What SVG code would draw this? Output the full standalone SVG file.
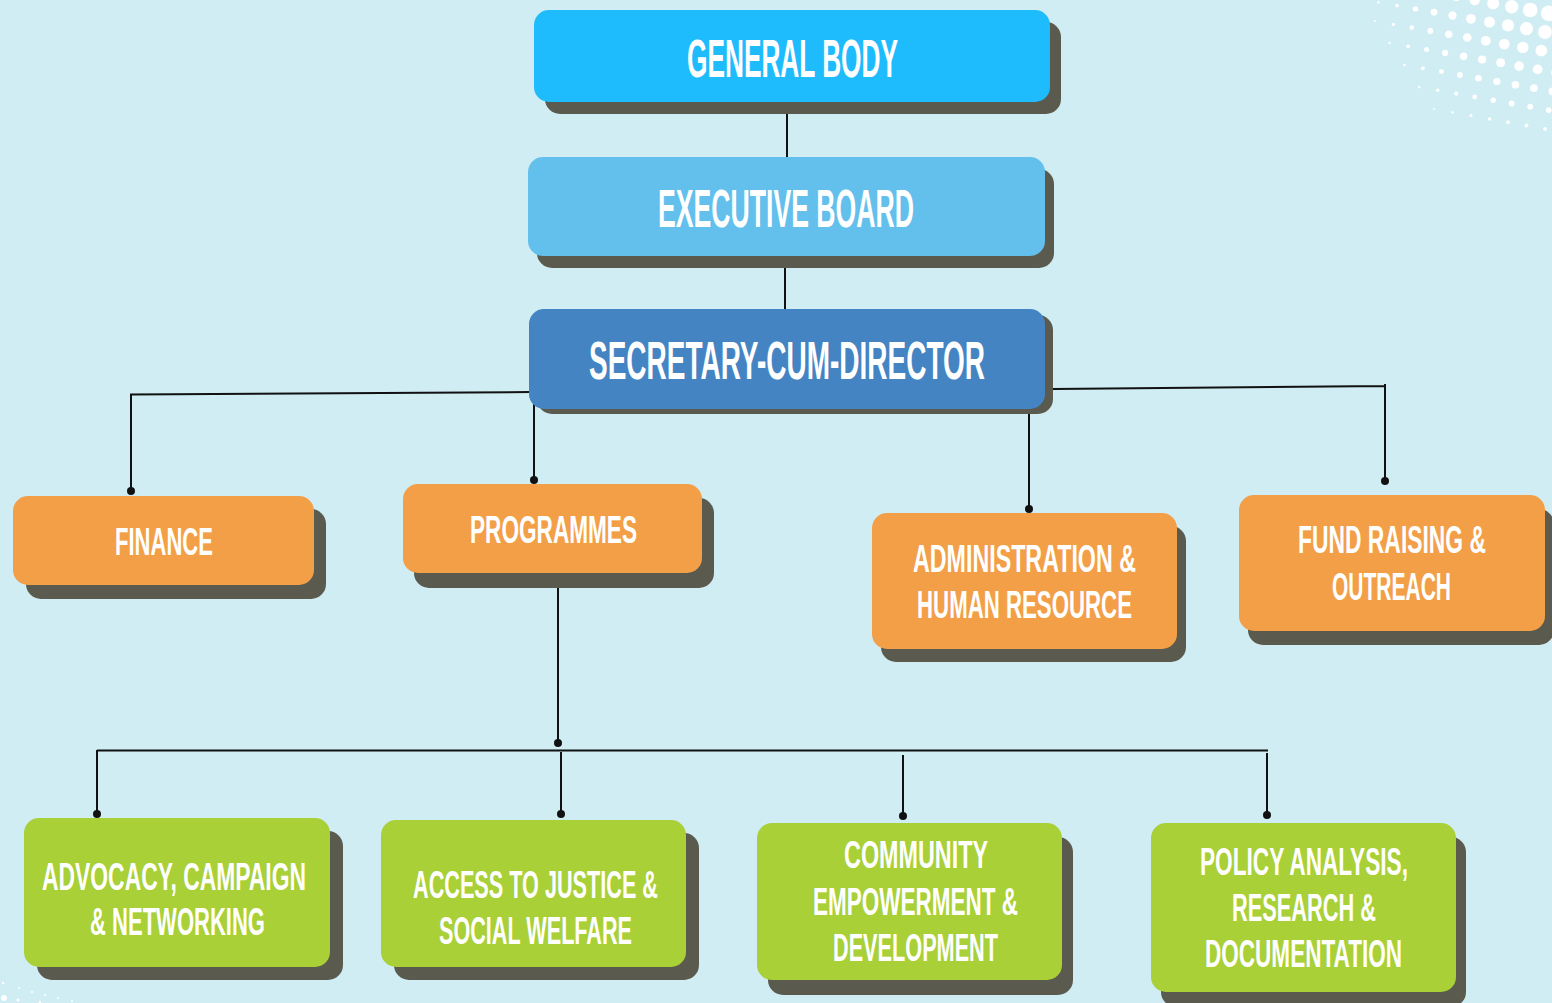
<svg xmlns="http://www.w3.org/2000/svg" width="1552" height="1003" viewBox="0 0 1552 1003">
<style>
.sh{fill:#5B5A4E}
.gb{fill:#1FBCFD}
.eb{fill:#63C0EC}
.sd{fill:#4584C3}
.or{fill:#F39F48}
.gr{fill:#A9D037}
.t{font-family:"Liberation Sans",Arial,sans-serif;font-weight:bold;fill:#FFFFFF;text-anchor:middle}
.big{font-size:53px}
.sm{font-size:39px}
.ln{stroke:#111;stroke-width:2;fill:none}
.dt{fill:#111}
.hd{fill:#FFFFFF}
</style>
<rect width="1552" height="1003" fill="#CFEDF3"/>
<g id="halftone" class="hd">
<circle cx="1548.7" cy="13.3" r="7.8"/><circle cx="1530.2" cy="10" r="7.3"/><circle cx="1511.7" cy="6.7" r="6.7"/><circle cx="1493.2" cy="3.4" r="6"/><circle cx="1474.7" cy="0.1" r="5.2"/><circle cx="1456.2" cy="-3.2" r="4.4"/>
<circle cx="1545" cy="32" r="6.9"/><circle cx="1526.5" cy="28.7" r="6.6"/><circle cx="1508" cy="25.4" r="6.1"/><circle cx="1489.5" cy="22.1" r="5.5"/><circle cx="1471" cy="18.8" r="4.9"/><circle cx="1452.5" cy="15.5" r="4.15"/><circle cx="1434" cy="12.2" r="3.4"/><circle cx="1415.5" cy="8.9" r="2.7"/><circle cx="1397" cy="5.6" r="1.9"/><circle cx="1378.5" cy="2.3" r="1.2"/>
<circle cx="1541.3" cy="50.7" r="5.9"/><circle cx="1522.8" cy="47.4" r="5.7"/><circle cx="1504.3" cy="44.1" r="5.4"/><circle cx="1485.8" cy="40.8" r="4.9"/><circle cx="1467.3" cy="37.5" r="4.3"/><circle cx="1448.8" cy="34.2" r="3.7"/><circle cx="1430.3" cy="30.9" r="3"/><circle cx="1411.8" cy="27.6" r="2.3"/><circle cx="1393.3" cy="24.3" r="1.6"/><circle cx="1374.8" cy="21" r="0.9"/>
<circle cx="1556.1" cy="72.7" r="4.9"/><circle cx="1537.6" cy="69.4" r="4.9"/><circle cx="1519.1" cy="66.1" r="4.8"/><circle cx="1500.6" cy="62.8" r="4.5"/><circle cx="1482.1" cy="59.5" r="4.1"/><circle cx="1463.6" cy="56.2" r="3.7"/><circle cx="1445.1" cy="52.9" r="3.1"/><circle cx="1426.6" cy="49.6" r="2.5"/><circle cx="1408.1" cy="46.3" r="1.9"/><circle cx="1389.6" cy="43" r="1.2"/>
<circle cx="1552.4" cy="91.4" r="3.9"/><circle cx="1533.9" cy="88.1" r="3.9"/><circle cx="1515.4" cy="84.8" r="3.85"/><circle cx="1496.9" cy="81.5" r="3.6"/><circle cx="1478.4" cy="78.2" r="3.3"/><circle cx="1459.9" cy="74.9" r="2.9"/><circle cx="1441.4" cy="71.6" r="2.4"/><circle cx="1422.9" cy="68.3" r="1.9"/><circle cx="1404.4" cy="65" r="1.3"/>
<circle cx="1548.7" cy="110.1" r="2.9"/><circle cx="1530.2" cy="106.8" r="2.95"/><circle cx="1511.7" cy="103.5" r="2.9"/><circle cx="1493.2" cy="100.2" r="2.7"/><circle cx="1474.7" cy="96.9" r="2.4"/><circle cx="1456.2" cy="93.6" r="2.1"/><circle cx="1437.7" cy="90.3" r="1.7"/><circle cx="1419.2" cy="87" r="1.2"/>
<circle cx="1545" cy="128.8" r="1.9"/><circle cx="1526.5" cy="125.5" r="1.95"/><circle cx="1508" cy="122.2" r="1.9"/><circle cx="1489.5" cy="118.9" r="1.75"/><circle cx="1471" cy="115.6" r="1.5"/><circle cx="1452.5" cy="112.3" r="1.2"/><circle cx="1434" cy="109" r="0.9"/>
<circle cx="4" cy="998" r="3"/><circle cx="3" cy="983" r="1.2"/><circle cx="19" cy="988" r="1"/><circle cx="32" cy="992" r="1"/><circle cx="45" cy="995" r="1"/><circle cx="58" cy="998" r="1"/><circle cx="72" cy="1001" r="1"/><circle cx="18" cy="1000" r="1.5"/><circle cx="40" cy="1002" r="1.2"/>
</g>
<g id="connectors">
<path class="ln" d="M787 92V157"/>
<path class="ln" d="M785 256V309"/>
<path class="ln" d="M530 392L131 394.5V491"/>
<path class="ln" d="M534 395V480"/>
<path class="ln" d="M1053 389L1385 386M1385 384V481"/>
<path class="ln" d="M1029 410V509"/>
<path class="ln" d="M558 588V743"/>
<path class="ln" d="M97 750.5H1268"/>
<path class="ln" d="M97 750V814"/>
<path class="ln" d="M561 752V814"/>
<path class="ln" d="M903 755V816"/>
<path class="ln" d="M1267 753V815"/>
<circle class="dt" cx="131" cy="491" r="4"/>
<circle class="dt" cx="534" cy="480" r="4"/>
<circle class="dt" cx="1385" cy="481" r="4"/>
<circle class="dt" cx="1029" cy="509" r="4"/>
<circle class="dt" cx="558" cy="743" r="4"/>
<circle class="dt" cx="97" cy="814" r="4"/>
<circle class="dt" cx="561" cy="814" r="4"/>
<circle class="dt" cx="903" cy="816" r="4"/>
<circle class="dt" cx="1267" cy="815" r="4"/>
</g>
<g id="general-body">
<rect class="sh" x="545" y="22" width="516" height="92" rx="15"/>
<rect class="gb" x="534" y="10" width="516" height="92" rx="15"/>
<text class="t big" transform="translate(792.5 77) scale(0.5 1)" textLength="422" lengthAdjust="spacingAndGlyphs">GENERAL BODY</text>
</g>
<g id="executive-board">
<rect class="sh" x="537" y="169" width="517" height="99" rx="15"/>
<rect class="eb" x="528" y="157" width="517" height="99" rx="15"/>
<text class="t big" transform="translate(786 227) scale(0.5 1)" textLength="512" lengthAdjust="spacingAndGlyphs">EXECUTIVE BOARD</text>
</g>
<g id="secretary-cum-director">
<rect class="sh" x="537" y="315" width="516" height="99" rx="15"/>
<rect class="sd" x="529" y="309" width="516" height="100" rx="15"/>
<text class="t big" transform="translate(787 379) scale(0.5 1)" textLength="792" lengthAdjust="spacingAndGlyphs">SECRETARY-CUM-DIRECTOR</text>
</g>
<g id="finance">
<rect class="sh" x="26" y="509" width="300" height="90" rx="15"/>
<rect class="or" x="13" y="496" width="301" height="89" rx="15"/>
<text class="t sm" transform="translate(164 555) scale(0.5 1)" textLength="196" lengthAdjust="spacingAndGlyphs">FINANCE</text>
</g>
<g id="programmes">
<rect class="sh" x="414" y="498" width="300" height="90" rx="15"/>
<rect class="or" x="403" y="484" width="299" height="89" rx="15"/>
<text class="t sm" transform="translate(553.5 543) scale(0.5 1)" textLength="334" lengthAdjust="spacingAndGlyphs">PROGRAMMES</text>
</g>
<g id="administration-hr">
<rect class="sh" x="881" y="526" width="305" height="136" rx="15"/>
<rect class="or" x="872" y="513" width="305" height="136" rx="15"/>
<text class="t sm" transform="translate(1024.5 572) scale(0.5 1)" textLength="446" lengthAdjust="spacingAndGlyphs">ADMINISTRATION &amp;</text>
<text class="t sm" transform="translate(1024.5 618) scale(0.5 1)" textLength="430" lengthAdjust="spacingAndGlyphs">HUMAN RESOURCE</text>
</g>
<g id="fund-raising">
<rect class="sh" x="1248" y="509" width="306" height="136" rx="15"/>
<rect class="or" x="1239" y="495" width="306" height="136" rx="15"/>
<text class="t sm" transform="translate(1392 553) scale(0.5 1)" textLength="376" lengthAdjust="spacingAndGlyphs">FUND RAISING &amp;</text>
<text class="t sm" transform="translate(1391.5 600) scale(0.5 1)" textLength="238" lengthAdjust="spacingAndGlyphs">OUTREACH</text>
</g>
<g id="advocacy">
<rect class="sh" x="37" y="831" width="306" height="149" rx="15"/>
<rect class="gr" x="24" y="818" width="306" height="149" rx="15"/>
<text class="t sm" transform="translate(174 890) scale(0.5 1)" textLength="528" lengthAdjust="spacingAndGlyphs">ADVOCACY, CAMPAIGN</text>
<text class="t sm" transform="translate(177.5 935) scale(0.5 1)" textLength="350" lengthAdjust="spacingAndGlyphs">&amp; NETWORKING</text>
</g>
<g id="access-to-justice">
<rect class="sh" x="394" y="833" width="305" height="147" rx="15"/>
<rect class="gr" x="381" y="820" width="305" height="147" rx="15"/>
<text class="t sm" transform="translate(535.5 898) scale(0.5 1)" textLength="490" lengthAdjust="spacingAndGlyphs">ACCESS TO JUSTICE &amp;</text>
<text class="t sm" transform="translate(535.5 944) scale(0.5 1)" textLength="386" lengthAdjust="spacingAndGlyphs">SOCIAL WELFARE</text>
</g>
<g id="community">
<rect class="sh" x="768" y="837" width="305" height="158" rx="15"/>
<rect class="gr" x="757" y="823" width="305" height="157" rx="15"/>
<text class="t sm" transform="translate(916 868) scale(0.5 1)" textLength="288" lengthAdjust="spacingAndGlyphs">COMMUNITY</text>
<text class="t sm" transform="translate(915.5 915) scale(0.5 1)" textLength="410" lengthAdjust="spacingAndGlyphs">EMPOWERMENT &amp;</text>
<text class="t sm" transform="translate(915.5 961) scale(0.5 1)" textLength="330" lengthAdjust="spacingAndGlyphs">DEVELOPMENT</text>
</g>
<g id="policy">
<rect class="sh" x="1161" y="837" width="305" height="170" rx="15"/>
<rect class="gr" x="1151" y="823" width="305" height="169" rx="15"/>
<text class="t sm" transform="translate(1304 875) scale(0.5 1)" textLength="416" lengthAdjust="spacingAndGlyphs">POLICY ANALYSIS,</text>
<text class="t sm" transform="translate(1304 921) scale(0.5 1)" textLength="288" lengthAdjust="spacingAndGlyphs">RESEARCH &amp;</text>
<text class="t sm" transform="translate(1303.5 967) scale(0.5 1)" textLength="394" lengthAdjust="spacingAndGlyphs">DOCUMENTATION</text>
</g>
</svg>
